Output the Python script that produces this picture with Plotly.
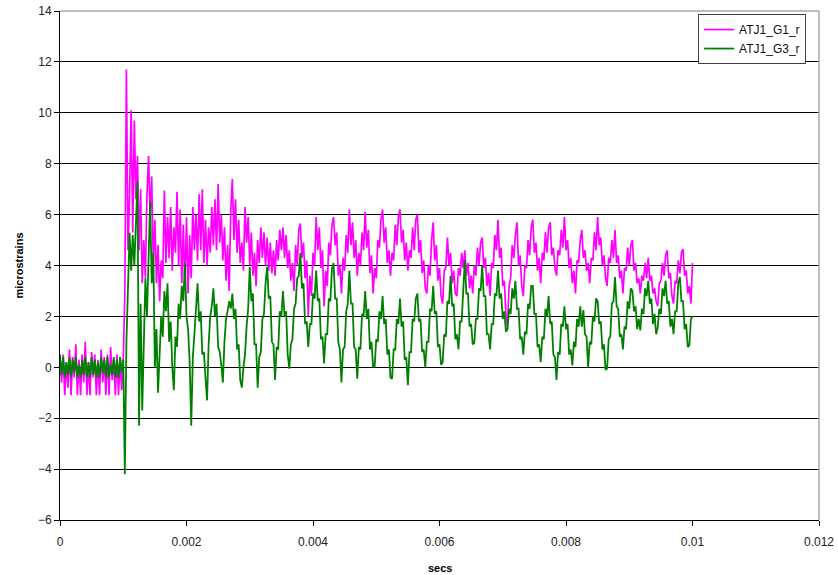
import numpy as np
import plotly.graph_objects as go

# sampling interval of the recorded signals (seconds)
DT = 0.000025

# ATJ1_G1_r (magenta) samples, microstrains
g1_vals = [
    0.3,-0.6,0.5,-1.1,0.2,-0.8,0.7,-1.1,0.4,-0.4,0.9,-1.1,0.3,-1.1,0.5,-0.6,1.0,-1.1,0.2,-1.1,
    0.6,-0.4,0.5,-1.1,0.3,-1.1,0.7,-0.6,0.4,-1.1,0.5,-1.1,0.8,-0.5,0.3,-1.1,0.5,-1.1,0.4,-0.9,
    0.3,
    2.9,11.7,4.6,6.8,10.1,5.3,9.7,6.6,8.3,4.6,7.0,3.3,5.0,3.5,6.8,8.3,5.9,7.5,4.0,
    5.8,3.3,4.8,2.6,4.2,3.5,6.95,4.1,5.9,4.3,6.3,3.8,5.5,4.5,6.9,4.0,6.2,3.3,5.6,3.1,
    5.9,2.9,5.2,3.5,6.3,4.6,6.0,4.2,6.8,4.6,7.0,4.1,5.8,4.0,5.5,4.5,6.3,4.8,6.6,4.6,
    7.2,4.9,6.0,4.2,5.5,3.4,4.8,3.0,6.2,7.4,5.0,6.6,4.5,5.8,4.1,4.9,3.8,6.3,4.9,5.9,
    4.0,5.3,3.6,4.5,3.2,5.0,4.1,5.5,4.3,5.3,4.0,5.1,3.8,4.9,3.7,4.6,3.6,5.0,4.2,5.4,
    4.6,5.5,4.3,5.2,3.9,4.6,3.4,4.1,3.0,4.8,4.0,5.4,5.65,4.3,4.9,3.5,4.2,2.0,3.6,2.8,
    4.5,4.0,5.9,4.6,5.5,3.9,4.6,2.4,3.8,3.2,4.9,4.4,5.6,5.9,4.8,5.3,3.6,4.0,2.9,4.3,
    3.8,5.2,4.5,6.2,4.8,5.7,4.3,5.0,3.6,4.5,4.0,5.3,4.6,6.1,4.7,5.4,3.7,4.4,2.9,3.9,
    3.5,5.0,4.7,5.8,6.2,4.9,5.5,4.1,4.6,3.6,4.5,4.2,5.6,4.8,5.9,6.2,4.9,5.4,4.2,4.9,
    3.8,4.6,4.3,5.5,4.6,5.8,6.0,4.5,5.0,3.7,4.2,3.1,2.9,4.0,3.6,5.0,5.7,4.2,4.8,3.4,
    3.9,2.8,2.5,3.8,3.9,5.1,4.0,4.5,3.3,3.8,2.9,2.8,3.9,3.6,4.5,3.9,4.6,3.6,4.1,3.1,
    3.6,2.9,4.0,3.6,4.7,4.0,4.9,5.1,3.9,4.3,3.2,3.7,2.8,4.1,3.9,5.2,4.6,5.8,4.3,4.7,
    3.2,3.4,2.1,1.6,3.2,3.5,4.8,4.3,5.2,5.7,4.0,4.4,3.2,2.8,4.0,3.9,5.0,4.4,5.5,5.8,
    4.5,4.9,3.8,4.3,3.3,4.5,4.2,5.3,4.5,5.5,5.7,4.4,4.7,3.9,3.6,4.6,4.4,5.4,4.7,5.9,
    4.6,5.0,3.9,4.3,3.3,3.8,2.9,4.2,4.1,5.0,5.4,4.3,4.6,3.8,4.1,3.3,4.3,4.2,5.3,4.6,
    5.9,4.8,5.1,4.0,4.4,3.5,3.2,4.3,4.1,5.0,4.3,5.4,4.1,4.4,3.5,3.8,2.9,3.9,3.8,4.7,
    4.0,4.8,5.0,3.8,4.1,3.3,3.5,2.9,3.6,3.4,4.1,3.5,4.3,3.4,3.6,2.9,3.1,2.6,2.4,3.3,
    3.4,4.1,3.6,4.4,4.6,3.5,3.7,2.8,2.5,3.4,3.3,4.2,3.7,4.5,4.65,3.6,3.8,2.9,3.2,2.5,
    4.1,
]

# ATJ1_G3_r (green) samples, microstrains
g3_vals = [
    0.5,-0.3,0.4,-0.4,0.2,-0.3,0.4,-0.4,0.3,-0.2,0.4,-0.4,0.1,-0.4,0.3,-0.3,0.4,-0.4,0.2,-0.4,
    0.4,-0.3,0.3,-0.4,0.2,-0.4,0.4,-0.2,0.3,-0.4,0.4,-0.4,0.1,-0.3,0.4,-0.4,0.3,-0.4,0.4,-0.2,
    0.3,
    -4.2,1.0,3.5,5.3,3.8,5.2,4.0,5.5,7.3,-2.3,2.5,-1.7,1.0,3.5,2.0,4.5,6.5,3.3,4.5,
    0.0,1.5,-1.0,0.9,2.0,1.2,3.0,2.2,3.3,1.0,1.8,0.0,-0.9,1.2,0.8,2.5,1.9,3.2,2.6,4.1,
    2.0,1.5,0.2,-2.3,0.4,1.3,2.2,3.3,1.8,2.2,0.5,0.6,-0.4,-1.3,0.9,2.0,2.4,3.1,2.0,2.5,
    0.8,0.6,0.1,-0.6,1.0,1.9,2.2,2.6,2.3,
    2.9,1.9,2.3,0.7,0.9,-0.5,-0.8,0.0,0.5,1.6,2.3,3.95,2.6,2.9,0.9,0.9,-0.8,0.4,0.6,1.9,
    2.1,3.3,3.95,2.7,2.8,1.0,0.9,-0.5,0.8,0.7,2.2,2.0,3.0,2.0,2.2,0.5,-0.05,0.9,1.1,2.3,
    2.5,3.5,3.6,4.5,3.1,3.3,1.7,1.8,0.8,1.7,1.7,2.9,2.7,3.8,2.6,2.7,1.1,1.2,0.15,1.3,
    1.3,2.7,2.6,3.9,4.1,2.7,2.7,1.0,0.7,-0.6,0.7,0.8,2.2,2.5,3.8,2.5,2.5,0.8,0.7,-0.45,
    0.8,0.7,2.1,2.0,3.0,1.9,2.3,0.7,1.0,0.0,0.05,1.1,1.0,2.2,1.9,2.8,1.7,1.9,0.5,0.7,
    -0.4,-0.45,0.7,0.7,1.9,1.7,2.7,1.6,1.8,0.3,0.4,-0.7,0.6,0.6,1.9,1.8,2.7,2.9,1.8,1.9,
    0.6,0.7,0.0,1.0,1.0,2.3,2.2,3.2,2.1,2.2,0.8,0.9,0.1,0.2,1.3,1.2,2.6,2.5,3.6,2.4,
    2.5,1.1,1.3,0.7,1.8,1.8,3.3,4.2,2.9,2.9,1.6,1.7,0.9,0.95,1.9,1.9,3.1,3.0,4.0,2.8,
    2.8,1.3,1.3,0.7,1.7,1.7,2.9,2.8,3.8,2.7,2.9,1.9,2.2,1.4,1.5,2.3,2.1,3.1,2.7,3.4,
    2.3,2.3,1.1,1.2,0.5,1.4,1.3,2.5,2.3,3.2,3.2,2.1,2.1,0.8,0.9,0.2,1.2,1.1,2.3,2.0,
    2.8,1.7,1.8,0.5,0.4,-0.5,0.6,0.5,1.7,1.6,2.4,1.5,1.7,0.5,0.7,0.07,1.0,0.8,1.9,1.6,
    2.4,1.6,2.25,1.3,1.2,0.0,1.0,0.9,2.0,1.8,2.7,2.6,1.7,1.8,0.7,0.9,-0.1,-0.05,1.1,1.2,
    2.5,2.6,3.55,2.4,2.3,1.2,1.3,0.7,1.6,1.5,2.6,2.3,3.1,3.0,2.2,2.4,1.5,1.9,1.45,2.3,
    2.1,3.1,2.8,3.4,2.5,2.7,1.7,2.1,1.3,1.55,2.3,2.1,3.1,2.8,3.4,2.5,2.6,1.6,1.9,1.3,
    2.2,2.2,3.3,3.55,2.6,2.6,1.5,1.7,0.8,0.85,1.9,2.0,
]

x_tick_vals = [0, 0.002, 0.004, 0.006, 0.008, 0.01, 0.012]
x_tick_text = ["0", "0.002", "0.004", "0.006", "0.008", "0.01", "0.012"]
y_tick_vals = [-6, -4, -2, 0, 2, 4, 6, 8, 10, 12, 14]

t1 = np.arange(len(g1_vals)) * DT
t3 = np.arange(len(g3_vals)) * DT

fig = go.Figure()
fig.add_trace(go.Scatter(x=t1, y=g1_vals, mode="lines", name="ATJ1_G1_r",
                         line=dict(color="#FF00FF", width=1.7)))
fig.add_trace(go.Scatter(x=t3, y=g3_vals, mode="lines", name="ATJ1_G3_r",
                         line=dict(color="#008000", width=1.8)))

font = "Liberation Sans, Arial, sans-serif"
fig.update_layout(
    width=838, height=575,
    margin=dict(l=60, r=19, t=11, b=55, autoexpand=False),
    paper_bgcolor="white", plot_bgcolor="white",
    font=dict(family=font, size=12, color="#222222"),
    showlegend=True,
    legend=dict(x=0.983, y=0.994, xanchor="right", yanchor="top",
                bgcolor="white", bordercolor="#404040", borderwidth=1,
                font=dict(family=font, size=12, color="#111111"),
                itemwidth=30, tracegroupgap=0),
    hovermode=False,
)
fig.update_xaxes(
    range=[0, 0.012], tickvals=x_tick_vals, ticktext=x_tick_text,
    showgrid=False, zeroline=False, automargin=False,
    showline=True, linecolor="black", linewidth=1,
    ticks="outside", ticklen=5, tickcolor="black", ticklabelstandoff=6,
)
fig.update_yaxes(
    range=[-6, 14], tickvals=y_tick_vals,
    showgrid=True, gridcolor="black", gridwidth=1,
    zeroline=False, automargin=False,
    showline=True, linecolor="black", linewidth=1,
    ticks="outside", ticklen=5, tickcolor="black",
)
fig.add_annotation(text="<b>secs</b>", xref="paper", yref="paper", x=0.5, y=-0.0943,
                   xanchor="center", yanchor="middle", showarrow=False,
                   font=dict(family=font, size=11, color="black"))
fig.add_annotation(text="<b>microstrains</b>", xref="paper", yref="paper", x=-0.0553, y=0.5,
                   xanchor="center", yanchor="middle", showarrow=False, textangle=-90,
                   font=dict(family=font, size=11, color="black"))
# light grey frame on top and right of the plot area
fig.add_shape(type="line", xref="paper", yref="paper", x0=0, x1=1, y0=1, y1=1,
              line=dict(color="#A8A8A8", width=1.5))
fig.add_shape(type="line", xref="paper", yref="paper", x0=1, x1=1, y0=0, y1=1,
              line=dict(color="#A8A8A8", width=1.5))

fig.write_html("out.html", config={"displayModeBar": False},
               post_script="document.body.style.margin='0';")
